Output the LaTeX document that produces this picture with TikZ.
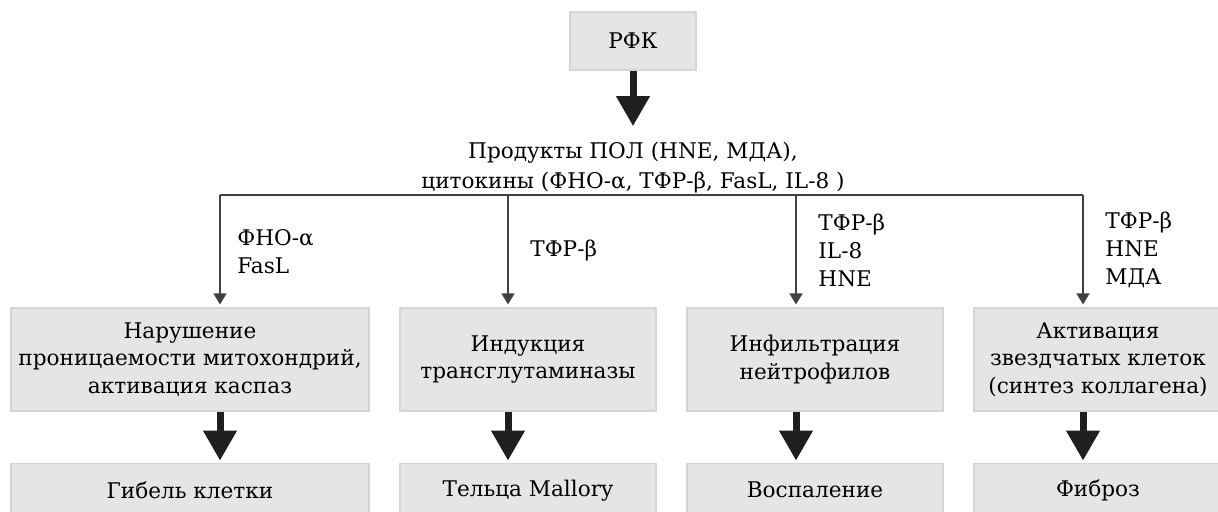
\documentclass[tikz,border=0pt]{standalone}
\usepackage{fontspec}
\setmainfont{DejaVu Serif}
\usetikzlibrary{arrows.meta,positioning}

\begin{document}
\begin{tikzpicture}[
  x=0.5pt, y=0.5pt,
  node distance=25.5pt,
  box/.style={rectangle, draw=gray!33, fill=gray!20, line width=0.6pt,
              align=center, inner sep=0pt, font=\fontsize{10.8}{13.75}\selectfont},
  midbox/.style={box, minimum height=51.5pt},
  resbox/.style={box, minimum height=27pt},
  agent/.style={anchor=west, align=left, inner sep=0pt,
                font=\fontsize{10.8}{14}\selectfont},
  fatarrow/.style={-{Triangle[width=16pt,length=15pt]}, line width=3.5pt, black!88},
  thinarrow/.style={-{Triangle[width=6.5pt,length=5.5pt]}, line width=0.75pt,
                    black!75, shorten >=1.5pt},
  busline/.style={line width=0.75pt, black!75}
]
\useasboundingbox (0,0) rectangle (1218,511);

% Source
\node[box, minimum width=63pt, minimum height=29pt] (rfk) at (633,470) {РФК};

% Mediators
\node[align=center, inner sep=0pt, font=\fontsize{10.8}{15}\selectfont] (prod) at (633,343)
  {Продукты ПОЛ (HNE, МДА),\\цитокины (ФНО-α, ТФР-β, FasL, IL-8 )};
\draw[fatarrow, shorten >=8pt] (rfk) -- (prod);

% Distribution line
\coordinate (t1) at (220,316);
\coordinate (t2) at (508,316);
\coordinate (t3) at (796,316);
\coordinate (t4) at (1083,316);
\draw[busline] (t1) -- (t4);

% Intermediate effects
\node[midbox, minimum width=179pt] (m1) at (190,151.5)
  {Нарушение\\проницаемости митохондрий,\\активация каспаз};
\node[midbox, minimum width=128pt] (m2) at (528,151.5)
  {Индукция\\трансглутаминазы};
\node[midbox, minimum width=128pt] (m3) at (815,151.5)
  {Инфильтрация\\нейтрофилов};
\node[midbox, minimum width=124pt] (m4) at (1098,151.5)
  {Активация\\звездчатых клеток\\(синтез коллагена)};

% Outcomes
\node[resbox, minimum width=179pt, below=of m1] (r1) {Гибель клетки};
\node[resbox, minimum width=128pt, below=of m2] (r2) {Тельца Mallory};
\node[resbox, minimum width=128pt, below=of m3] (r3) {Воспаление};
\node[resbox, minimum width=124pt, below=of m4] (r4) {Фиброз};

% Mediator labels
\node[agent] (a1) at (237,259) {ФНО-α\\FasL};
\node[agent] (a2) at (530,261) {ТФР-β};
\node[agent] (a3) at (818,261) {ТФР-β\\IL-8\\HNE};
\node[agent] (a4) at (1105,261) {ТФР-β\\HNE\\МДА};

% Arrows
\foreach \i in {1,...,4} {
  \draw[thinarrow] (t\i) -- (t\i |- m\i.north);
  \draw[fatarrow, shorten >=1pt] (t\i |- m\i.south) -- (t\i |- r\i.north);
}

\end{tikzpicture}
\end{document}
